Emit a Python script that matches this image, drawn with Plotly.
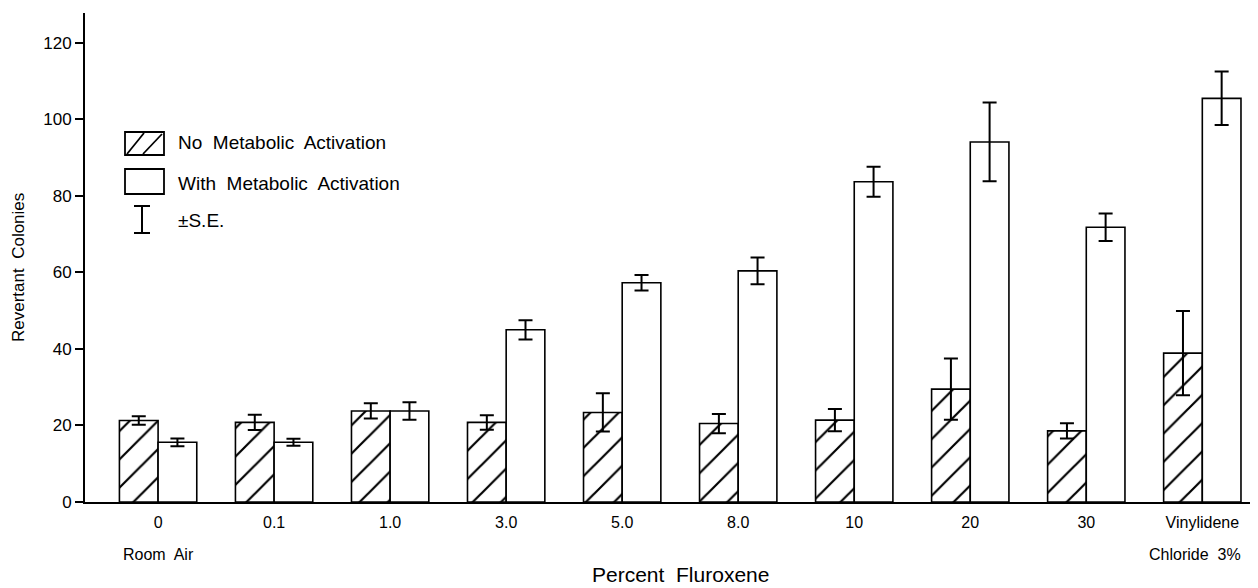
import plotly.graph_objects as go

categories = ["0", "0.1", "1.0", "3.0", "5.0", "8.0", "10", "20", "30", "Vinylidene"]
no_activation = [21.3, 20.8, 23.8, 20.8, 23.4, 20.5, 21.4, 29.5, 18.6, 38.9]
no_activation_se = [1.1, 2.0, 2.0, 1.9, 5.0, 2.5, 2.9, 8.0, 2.0, 11.0]
with_activation = [15.6, 15.6, 23.8, 45.0, 57.3, 60.4, 83.7, 94.1, 71.8, 105.5]
with_activation_se = [1.0, 0.9, 2.3, 2.5, 2.0, 3.5, 3.9, 10.3, 3.6, 7.0]
y_ticks = [0, 20, 40, 60, 80, 100, 120]

FONT = "Liberation Sans, Arial, Helvetica, sans-serif"
OFF = 8  # browser default body margin
W, H = 1258 - OFF, 588 - OFF
L, R, T = 85 - OFF, 0, 13 - OFF
B = H - (502 - OFF)
PW, PH = W - L - R, H - T - B

def px(x):
    # x given in reference page pixels
    return (x - OFF - L) / PW

def py(y):
    return (H - B - (y - OFF)) / PH

xidx = list(range(len(categories)))

fig = go.Figure()
fig.add_trace(go.Bar(
    x=xidx, y=no_activation, name="No Metabolic Activation",
    marker=dict(color="white", line=dict(color="black", width=1.6),
                pattern=dict(shape="/", fgcolor="black", bgcolor="white", fgopacity=1,
                             size=20, solidity=0.11)),
    error_y=dict(type="data", array=no_activation_se, visible=True, color="black", thickness=2, width=7),
))
fig.add_trace(go.Bar(
    x=xidx, y=with_activation, name="With Metabolic Activation",
    marker=dict(color="white", line=dict(color="black", width=1.6)),
    error_y=dict(type="data", array=with_activation_se, visible=True, color="black", thickness=2, width=7),
))

fig.update_layout(
    width=W, height=H,
    margin=dict(l=L, r=R, t=T, b=B, pad=0),
    paper_bgcolor="white", plot_bgcolor="white",
    barmode="group", bargap=1/3, bargroupgap=0,
    showlegend=False,
    font=dict(family=FONT, color="black"),
)
fig.update_xaxes(
    range=[-0.63, 9.48], tickvals=xidx, ticktext=categories,
    showline=True, linecolor="black", linewidth=2, showgrid=False, zeroline=False,
    ticks="outside", ticklen=5, tickcolor="rgba(0,0,0,0)",
    tickfont=dict(size=16, family=FONT),
)
fig.update_yaxes(
    range=[0, 127.8], tickvals=y_ticks,
    showline=True, linecolor="black", linewidth=2, showgrid=False, zeroline=False,
    ticks="outside", ticklen=8, tickwidth=1.6, tickcolor="black",
    tickfont=dict(size=17, family=FONT),
)

ann = []
ann.append(dict(text="Room  Air", x=0, y=py(554), xref="x", yref="paper",
                showarrow=False, font=dict(size=16), xanchor="center", yanchor="middle"))
ann.append(dict(text="Chloride  3%", x=px(1147), y=py(554), xref="paper", yref="paper",
                showarrow=False, font=dict(size=16), xanchor="left", yanchor="middle"))
ann.append(dict(text="Percent  Fluroxene", x=px(680), y=py(575), xref="paper", yref="paper",
                showarrow=False, font=dict(size=21), xanchor="center", yanchor="middle"))
ann.append(dict(text="Revertant  Colonies", x=px(18), y=py(268), xref="paper", yref="paper",
                showarrow=False, font=dict(size=17), textangle=-90, xanchor="center", yanchor="middle"))
# legend text
for txt, yy in [("No  Metabolic  Activation", 142), ("With  Metabolic  Activation", 183), ("±S.E.", 220)]:
    ann.append(dict(text=txt, x=px(176), y=py(yy), xref="paper", yref="paper",
                    showarrow=False, font=dict(size=19), xanchor="left", yanchor="middle"))

shapes = []
def rect(x0, y0, x1, y1):
    shapes.append(dict(type="rect", xref="paper", yref="paper",
                       x0=px(x0), x1=px(x1), y0=py(y1), y1=py(y0),
                       line=dict(color="black", width=1.8), fillcolor="white"))
def line(x0, y0, x1, y1, w=1.8):
    shapes.append(dict(type="line", xref="paper", yref="paper",
                       x0=px(x0), x1=px(x1), y0=py(y0), y1=py(y1),
                       line=dict(color="black", width=w)))
rect(125, 132, 164, 155)
line(127, 154, 144, 133)
line(143, 154, 162, 134)
rect(125, 169, 164, 194)
line(142, 206, 142, 233, 2)
line(134, 206, 150, 206, 2)
line(134, 233, 150, 233, 2)

fig.update_layout(annotations=ann, shapes=shapes)
fig.write_html("out.html")
